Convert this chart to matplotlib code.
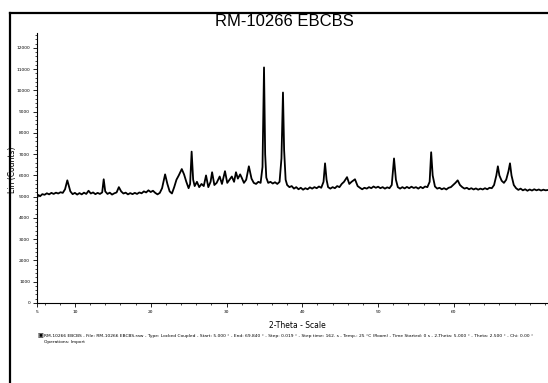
import matplotlib
matplotlib.use("Agg")
import matplotlib.pyplot as plt
from matplotlib.ticker import MultipleLocator
from matplotlib.lines import Line2D

# diffractogram (2-theta in degrees, counts)
two_theta = [5.0, 5.2, 5.4, 5.7, 6.0, 6.3, 6.6, 6.9, 7.2, 7.5, 7.8, 8.1, 8.4, 8.7, 9.0, 9.2, 9.4, 9.7,
             10.0, 10.3, 10.6, 10.9, 11.2, 11.5, 11.8, 12.1, 12.4, 12.7, 13.0, 13.3, 13.6, 13.8, 14.0,
             14.3, 14.6, 14.9, 15.2, 15.5, 15.8, 16.1, 16.4, 16.7, 17.0, 17.3, 17.6, 17.9, 18.2, 18.5,
             18.8, 19.1, 19.4, 19.7, 20.0, 20.3, 20.6, 20.9, 21.2, 21.5, 21.9, 22.2, 22.5, 22.8, 23.1,
             23.4, 23.7, 24.1, 24.4, 24.7, 25.0, 25.2, 25.4, 25.6, 25.8, 26.1, 26.4, 26.7, 27.0, 27.3,
             27.6, 27.9, 28.1, 28.4, 28.7, 29.1, 29.4, 29.8, 30.1, 30.4, 30.7, 31.0, 31.25, 31.5, 31.8,
             32.0, 32.3, 32.6, 32.95, 33.3, 33.6, 33.9, 34.2, 34.5, 34.75, 34.95, 35.1, 35.25, 35.5,
             35.8, 36.1, 36.4, 36.7, 37.0, 37.25, 37.45, 37.6, 37.8, 38.0, 38.3, 38.6, 38.9, 39.2, 39.5,
             39.8, 40.1, 40.4, 40.7, 41.0, 41.3, 41.6, 41.9, 42.2, 42.5, 42.8, 43.0, 43.2, 43.4, 43.7,
             44.0, 44.3, 44.6, 44.9, 45.2, 45.5, 45.9, 46.2, 46.5, 46.95, 47.3, 47.6, 47.9, 48.2, 48.5,
             48.8, 49.1, 49.4, 49.7, 50.0, 50.3, 50.6, 50.9, 51.2, 51.5, 51.8, 52.1, 52.35, 52.6, 52.9,
             53.2, 53.5, 53.8, 54.1, 54.4, 54.7, 55.0, 55.3, 55.6, 55.9, 56.2, 56.5, 56.8, 57.0, 57.2,
             57.5, 57.8, 58.1, 58.4, 58.7, 59.0, 59.3, 59.6, 59.9, 60.2, 60.5, 60.8, 61.1, 61.4, 61.7,
             62.0, 62.3, 62.6, 62.9, 63.2, 63.5, 63.8, 64.1, 64.4, 64.7, 65.0, 65.3, 65.6, 65.8, 66.0,
             66.3, 66.6, 66.9, 67.2, 67.4, 67.6, 67.9, 68.2, 68.5, 68.8, 69.1, 69.4, 69.7, 70.0, 70.3,
             70.6, 70.9, 71.2, 71.5, 71.8, 72.1, 72.5]
counts = [4950, 5080, 5020, 5120, 5090, 5160, 5110, 5180, 5130, 5190, 5150, 5210, 5180, 5350, 5770, 5500, 5250, 5120,
          5180, 5100, 5170, 5110, 5190, 5130, 5280, 5150, 5200, 5120, 5180, 5130, 5200, 5820, 5250,
          5130, 5190, 5100, 5160, 5200, 5450, 5250, 5150, 5190, 5110, 5170, 5120, 5180, 5130, 5200,
          5160, 5250, 5200, 5300, 5220, 5280, 5180, 5110, 5180, 5400, 6050, 5600, 5250, 5150, 5450,
          5800, 6000, 6300, 6050, 5700, 5400, 5600, 7120, 5800, 5500, 5700, 5450, 5600, 5500, 6000,
          5450, 5700, 6150, 5550, 5650, 5950, 5600, 6200, 5650, 5800, 5950, 5700, 6150, 5850, 6050,
          5900, 5650, 5800, 6430, 5850, 5650, 5600, 5700, 5650, 6400, 11080, 7000, 5900, 5650,
          5700, 5620, 5680, 5600, 5700, 6800, 9900, 7200, 5800, 5550, 5450, 5500, 5380, 5450, 5350,
          5420, 5330, 5400, 5350, 5440, 5380, 5450, 5400, 5480, 5420, 5700, 6570, 5800, 5450, 5380,
          5450, 5400, 5500, 5450, 5600, 5700, 5920, 5600, 5700, 5820, 5500, 5420, 5350, 5420, 5380,
          5450, 5400, 5480, 5420, 5470, 5400, 5450, 5380, 5440, 5400, 5550, 6800, 5800, 5450, 5380,
          5450, 5390, 5460, 5400, 5470, 5410, 5450, 5380, 5460, 5400, 5480, 5450, 5700, 7090, 6000,
          5480, 5380, 5420, 5350, 5400, 5340, 5420, 5450, 5550, 5650, 5770, 5550, 5450, 5380, 5420,
          5350, 5400, 5340, 5390, 5330, 5380, 5340, 5400, 5350, 5420, 5400, 5550, 6000, 6430, 6000,
          5750, 5650, 5800, 6200, 6570, 6000, 5550, 5400, 5320, 5380, 5300, 5350, 5280, 5340, 5290,
          5350, 5300, 5340, 5290, 5330, 5300, 5320]

x_ticks = [5, 10, 20, 30, 40, 50, 60]
title = "RM-10266 EBCBS"
footer = ("RM-10266 EBCBS - File: RM-10266 EBCBS.raw - Type: Locked Coupled - Start: 5.000 \u00b0 - "
          "End: 69.840 \u00b0 - Step: 0.019 \u00b0 - Step time: 162. s - Temp.: 25 \u00b0C (Room) - "
          "Time Started: 0 s - 2-Theta: 5.000 \u00b0 - Theta: 2.500 \u00b0 - Chi: 0.00 \u00b0")
footer2 = "Operations: Import"

W, H = 548, 383
fig = plt.figure(figsize=(W / 100, H / 100), dpi=100)

# axes placed in pixels: 5 deg at x=37, 0 counts at y=303, ~7.58 px per degree
x0, x1 = 5, 75
y0, y1 = 0, 12700
left, bottom = 37, 303
w = (x1 - x0) * 7.58
h = 270
ax = fig.add_axes([left / W, 1 - bottom / H, w / W, h / H])

ax.plot(two_theta, counts, color="black", lw=1.3)
ax.set_xlim(x0, x1)
ax.set_ylim(y0, y1)

for s in ["top", "right"]:
    ax.spines[s].set_visible(False)
for s in ["left", "bottom"]:
    ax.spines[s].set_linewidth(0.8)

ax.set_xticks(x_ticks)
ax.xaxis.set_minor_locator(MultipleLocator(2))
ax.yaxis.set_major_locator(MultipleLocator(1000))
ax.yaxis.set_minor_locator(MultipleLocator(200))
ax.tick_params(axis="both", which="major", direction="out", length=3, width=0.6,
               labelsize=3.2, pad=2)
ax.tick_params(axis="both", which="minor", direction="out", length=1.5, width=0.5)

# outer frame (cut off at right and bottom)
fig.add_artist(Line2D([10 / W, 10 / W], [-0.01, 1 - 13 / H], transform=fig.transFigure,
                      color="black", lw=1.6))
fig.add_artist(Line2D([10 / W, 1.01], [1 - 13 / H, 1 - 13 / H], transform=fig.transFigure,
                      color="black", lw=1.6))

fig.text(284 / W, 1 - 22 / H, title, ha="center", va="center", fontsize=12,
         family="Liberation Sans")
fig.text(13 / W, 1 - 170 / H, "Lin (Counts)", rotation=90, ha="center", va="center",
         fontsize=5.5)
fig.text(297 / W, 1 - 325 / H, "2-Theta - Scale", ha="center", va="center", fontsize=5.5)

fig.text(37 / W, 1 - 336 / H, "\u25a3", ha="left", va="center", fontsize=4.5)
fig.text(44 / W, 1 - 336 / H, footer, ha="left", va="center", fontsize=3.15)
fig.text(44 / W, 1 - 342 / H, footer2, ha="left", va="center", fontsize=3.15)

fig.savefig("out.png", dpi=100)
